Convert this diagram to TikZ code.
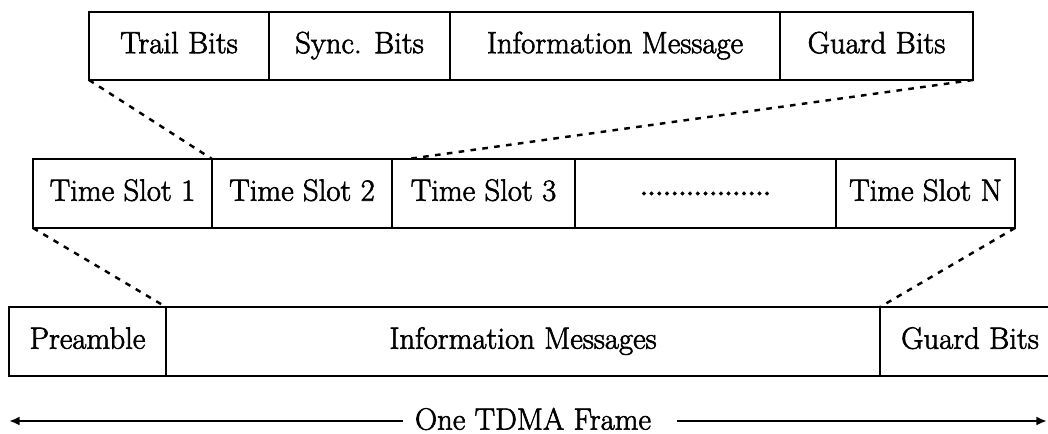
\documentclass[tikz,border=0pt]{standalone}
\usepackage{fontspec}
\setmainfont{Latin Modern Roman}[FakeBold=2]
\usepackage{tikz}
\usetikzlibrary{positioning,arrows.meta}
\newcommand{\pxu}{0.02cm}
\tikzset{
  cell/.style={draw,line width=1pt,outer sep=0pt,inner sep=0pt,minimum height=69*\pxu,
    text height=1.1em,text depth=0.28em,font=\fontsize{17.5}{20}\selectfont},
  zoomline/.style={line width=1.4pt,dash pattern=on 3.2pt off 3.6pt},
}

\begin{document}
\begin{tikzpicture}[x=\pxu,y=-\pxu]
  \useasboundingbox (0,0) rectangle (1048,433);
  % one slot
  \node[cell,anchor=west,minimum width=180*\pxu,minimum height=68*\pxu] (tb) at (89,46) {Trail Bits};
  \node[cell,right=0pt of tb,minimum width=181*\pxu,minimum height=68*\pxu] (sb) {Sync. Bits};
  \node[cell,right=0pt of sb,minimum width=330*\pxu,minimum height=68*\pxu] (im) {Information Message};
  \node[cell,right=0pt of im,minimum width=193*\pxu,minimum height=68*\pxu] (gb) {Guard Bits};
  % time slots
  \node[cell,anchor=west,minimum width=179*\pxu] (ts1) at (33,193.5) {Time Slot 1};
  \node[cell,right=0pt of ts1,minimum width=180*\pxu] (ts2) {Time Slot 2};
  \node[cell,right=0pt of ts2,minimum width=183*\pxu] (ts3) {Time Slot 3};
  \node[cell,right=0pt of ts3,minimum width=261*\pxu,text height=,text depth=,font=\fontsize{14}{16}\selectfont] (tsd) {\bfseries.................};
  \node[cell,right=0pt of tsd,minimum width=179*\pxu] (tsn) {Time Slot N};
  % frame
  \node[cell,anchor=west,minimum width=157*\pxu] (pre) at (9,341.5) {Preamble};
  \node[cell,right=0pt of pre,minimum width=714*\pxu] (msg) {Information Messages};
  \node[cell,right=0pt of msg,minimum width=180*\pxu] (gbf) {Guard Bits};
  % zoom lines
  \draw[zoomline] (tb.south west) -- (ts2.north west);
  \draw[zoomline] (gb.south east) -- ([xshift=16*\pxu]ts2.north east);
  \draw[zoomline] (ts1.south west) -- (msg.north west);
  \draw[zoomline] (tsn.south east) -- (gbf.north west);
  % frame length
  \node[inner sep=0pt,font=\fontsize{17.5}{20}\selectfont] (tdma) at (533,419) {One TDMA Frame};
  \coordinate (lend) at (9,421);
  \coordinate (rend) at (1047,421);
  \draw[-{Latex[length=6pt,width=5pt]},line width=1.3pt] ([xshift=-12*\pxu]tdma.west|-lend) -- (lend);
  \draw[-{Latex[length=6pt,width=5pt]},line width=1.3pt] ([xshift=26*\pxu]tdma.east|-rend) -- (rend);
\end{tikzpicture}
\end{document}
